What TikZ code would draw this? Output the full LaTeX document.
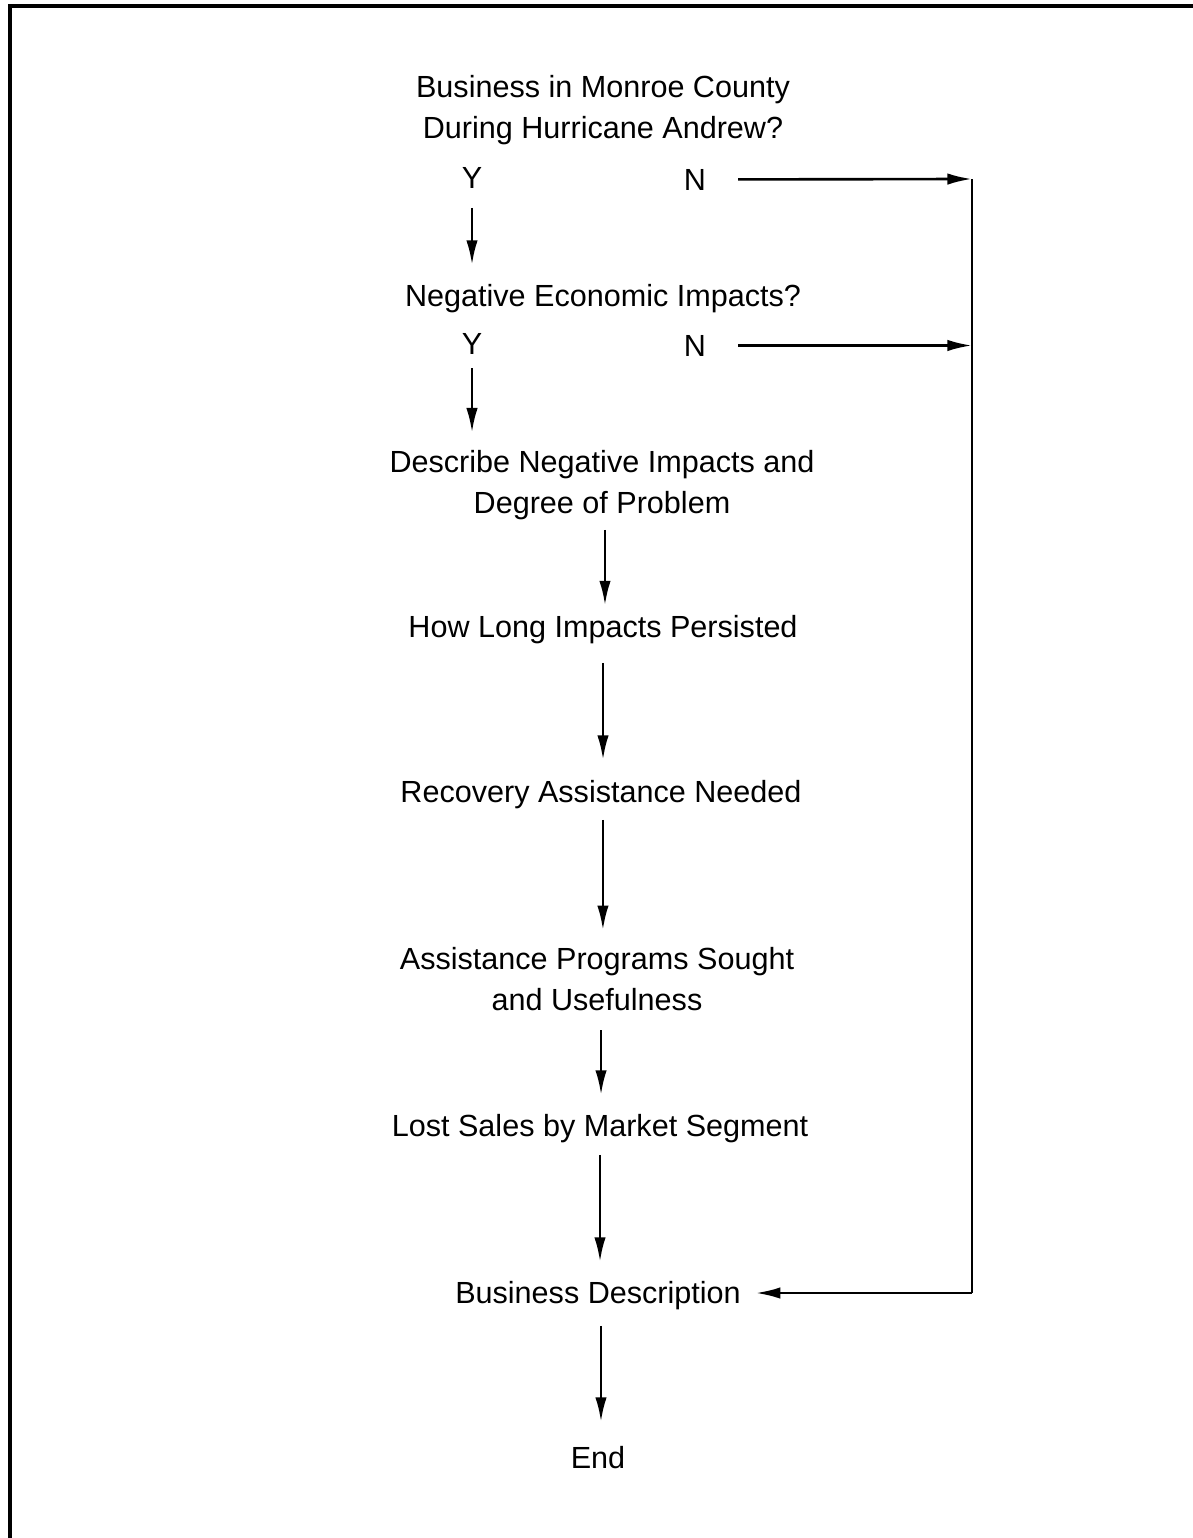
\documentclass[tikz,border=0pt]{standalone}
\usepackage{fontspec}
\setmainfont{Liberation Sans}
\usetikzlibrary{arrows.meta}
\begin{document}
\begin{tikzpicture}[x=0.02cm,y=-0.02cm,
  lbl/.style={inner sep=0pt,outer sep=0pt,anchor=base,align=center,font=\fontsize{17.4}{23.2}\selectfont},
  arr/.style={line width=1.5pt,-{Latex[length=14pt,width=6.5pt]}},
  plain/.style={line width=1.5pt},
  frame/.style={line width=2.2pt}]
\useasboundingbox (0,0) rectangle (1193,1538);
\fill[white] (0,0) rectangle (1193,1538);
\draw[frame] (10,1538) -- (10,6) -- (1193,6);
% nodes (multi-line nodes are placed by the baseline of their last line)
\node[lbl] (q1) at (603,138) {Business in Monroe County\\During Hurricane Andrew?};
\node[lbl] (y1) at (472,188) {Y};
\node[lbl] (n1) at (695,190) {N};
\node[lbl] (q2) at (603,306) {Negative Economic Impacts?};
\node[lbl] (y2) at (472,354) {Y};
\node[lbl] (n2) at (695,356) {N};
\node[lbl] (desc) at (602,513) {Describe Negative Impacts and\\Degree of Problem};
\node[lbl] (how) at (603,637) {How Long Impacts Persisted};
\node[lbl] (rec) at (601,802) {Recovery Assistance Needed};
\node[lbl] (asp) at (597,1010) {Assistance Programs Sought\\and Usefulness};
\node[lbl] (lost) at (600,1136) {Lost Sales by Market Segment};
\node[lbl] (bd) at (598,1303) {Business Description};
\node[lbl] (end) at (598,1468) {End};
\coordinate (c1) at (972,179);
\coordinate (c2) at (972,1293);
% connectors
\draw[arr,shorten <=0.4cm,shorten >=0.38cm] (y1.south) -- (y1.south |- q2.north);
\draw[arr,shorten <=0.28cm,shorten >=0.35cm] (y2.south) -- (y2.south |- desc.north);
\draw[arr,shorten <=0.21cm,shorten >=0.19cm] ([xshift=1.7pt]desc.south) -- ([xshift=1.7pt]desc.south |- how.north);
\draw[arr,shorten <=0.39cm,shorten >=0.4cm] (how.south) -- (how.south |- rec.north);
\draw[arr,shorten <=0.23cm,shorten >=0.34cm] ([xshift=1.1pt]rec.south) -- ([xshift=1.1pt]rec.south |- asp.north);
\draw[arr,shorten <=0.4cm,shorten >=0.38cm] ([xshift=2.3pt]asp.south) -- ([xshift=2.3pt]asp.south |- lost.north);
\draw[arr,shorten <=0.25cm,shorten >=0.38cm] (lost.south) -- (lost.south |- bd.north);
\draw[arr,shorten <=0.33cm,shorten >=0.48cm] ([xshift=1.7pt]bd.south) -- ([xshift=1.7pt]bd.south |- end.north);
\draw[arr,shorten <=0.64cm] (n1.east) -- (c1);
\draw[arr,shorten <=0.64cm] (n2.east) -- (n2.east -| c1);
\draw[plain] (c1) -- (c2);
\draw[arr,shorten >=0.3cm] (c2) -- (bd.east |- c2);
\end{tikzpicture}
\end{document}
